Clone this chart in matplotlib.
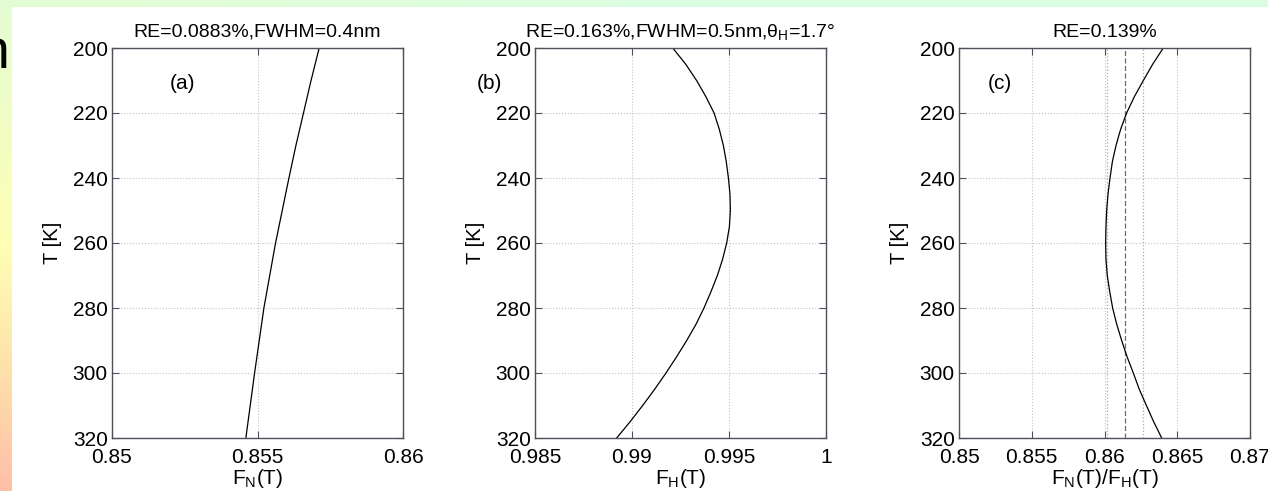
import numpy as np
import matplotlib
matplotlib.use('Agg')
import matplotlib.pyplot as plt
from matplotlib.patches import Rectangle

plt.rcParams['font.family'] = ['Liberation Sans', 'DejaVu Sans']
plt.rcParams['mathtext.fontset'] = 'custom'
plt.rcParams['mathtext.rm'] = 'Liberation Sans'
plt.rcParams['mathtext.it'] = 'Liberation Sans'

# temperatures [K]
T_a = [200, 210, 220, 230, 240, 250, 260, 270, 280, 290, 300, 310, 320]
T_bc = [200, 205, 210, 215, 220, 225, 230, 235, 240, 245, 250, 255, 260,
        265, 270, 275, 280, 285, 290, 295, 300, 305, 310, 315, 320]

# (a) normalised N2 response
F_N = [0.85712, 0.85684, 0.85658, 0.85632, 0.85608, 0.85585, 0.85562,
       0.85542, 0.85522, 0.85506, 0.85490, 0.85475, 0.85460]
# (b) normalised H response
F_H = [0.99210, 0.99277, 0.99333, 0.99381, 0.99423, 0.99450, 0.99471,
       0.99486, 0.99497, 0.99505, 0.99507, 0.99502, 0.99488, 0.99467,
       0.99440, 0.99407, 0.99371, 0.99330, 0.99282, 0.99230, 0.99175,
       0.99117, 0.99055, 0.98990, 0.98921]
# (c) ratio
ratio = [0.86404, 0.86331, 0.86267, 0.86205, 0.86152, 0.86111, 0.86079,
         0.86054, 0.86038, 0.86024, 0.86015, 0.86010, 0.86008, 0.86010,
         0.86019, 0.86036, 0.86056, 0.86084, 0.86118, 0.86155, 0.86198,
         0.86239, 0.86288, 0.86338, 0.86393]
ratio_mean = 0.86141
ratio_band = [0.86020, 0.86262]

titles = ['RE=0.0883%,FWHM=0.4nm',
          'RE=0.163%,FWHM=0.5nm,θ$_{\\rm H}$=1.7°',
          'RE=0.139%']
xlabels = ['F$_{\\rm N}$(T)', 'F$_{\\rm H}$(T)', 'F$_{\\rm N}$(T)/F$_{\\rm H}$(T)']
panel_tags = ['(a)', '(b)', '(c)']
xlims = [(0.85, 0.86), (0.985, 1.0), (0.85, 0.87)]
xticks = [[0.85, 0.855, 0.86], [0.985, 0.99, 0.995, 1.0],
          [0.85, 0.855, 0.86, 0.865, 0.87]]
xticklabels = [['0.85', '0.855', '0.86'], ['0.985', '0.99', '0.995', '1'],
               ['0.85', '0.855', '0.86', '0.865', '0.87']]
tag_x = [0.852, 0.982, 0.852]
yticks = [200, 220, 240, 260, 280, 300, 320]

W, H = 1268, 491
fig = plt.figure(figsize=(W / 100, H / 100), dpi=100)

# slide background behind the figure
bg = fig.add_axes([0, 0, 1, 1], zorder=-10)
yy = np.linspace(0, 1, H)[:, None]
xx = np.linspace(0, 1, W)[None, :]
left_r = np.interp(yy, [0, 0.5, 1], [228, 255, 255])
left_g = np.interp(yy, [0, 0.5, 0.75, 1], [252, 255, 225, 190])
left_b = np.interp(yy, [0, 0.5, 0.75, 1], [212, 180, 170, 168])
mix = np.clip(xx / 0.6, 0, 1)
img = np.stack([left_r * (1 - mix) + 218 * mix,
                left_g * (1 - mix) + 254 * mix,
                left_b * (1 - mix) + 228 * mix], axis=-1) / 255
bg.imshow(np.clip(img, 0, 1), aspect='auto', extent=[0, 1, 0, 1])
bg.add_patch(Rectangle((12 / W, 0), 1, 1 - 7 / H, facecolor='white', edgecolor='none'))
bg.set_xlim(0, 1)
bg.set_ylim(0, 1)
bg.axis('off')
fig.text(-22 / W, 1 - 68 / H, 'n', fontsize=40, color='black')

lefts = [112, 535, 959]
spine_c = '#50505a'
grid_c = '#c4c4c8'

for i in range(3):
    ax = fig.add_axes([lefts[i] / W, 1 - 438 / H, 291 / W, 390 / H])
    ax.set_facecolor('white')
    ax.set_xlim(*xlims[i])
    ax.set_ylim(320, 200)
    ax.set_xticks(xticks[i])
    ax.set_xticklabels(xticklabels[i])
    ax.set_yticks(yticks)
    ax.grid(True, color=grid_c, linestyle=':', linewidth=0.8)
    ax.set_axisbelow(True)
    ax.tick_params(direction='in', length=5, width=0.8, color=spine_c,
                   top=True, right=True, labelsize=15)
    ax.tick_params(axis='x', pad=7)
    ax.tick_params(axis='y', pad=3)
    for sp in ax.spines.values():
        sp.set_color(spine_c)
        sp.set_linewidth(1.0)

    if i == 0:
        ax.plot(F_N, T_a, color='black', linewidth=0.9)
    elif i == 1:
        ax.plot(F_H, T_bc, color='black', linewidth=0.9)
    else:
        for v in ratio_band:
            ax.axvline(v, color='#a8a8b0', linestyle=':', linewidth=0.9)
        ax.axvline(ratio_mean, color='#6a6a72', linestyle=(0, (4, 2)), linewidth=0.9)
        ax.plot(ratio, T_bc, color='black', linewidth=0.9)

    ax.set_title(titles[i], fontsize=14, pad=8)
    ax.set_xlabel(xlabels[i], fontsize=15, labelpad=0)
    ax.set_ylabel('T [K]', fontsize=14.5, labelpad=8)
    ax.text(tag_x[i], 211, panel_tags[i], fontsize=15, va='center', ha='left',
            clip_on=False)

fig.savefig('out.png', dpi=100)
